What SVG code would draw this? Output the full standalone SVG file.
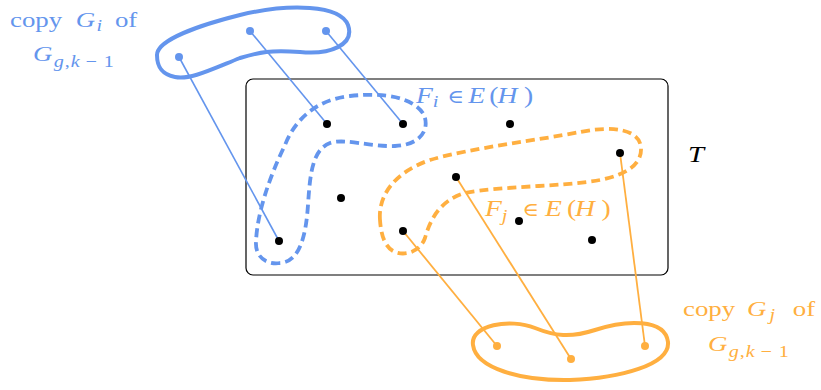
<svg xmlns="http://www.w3.org/2000/svg" width="821" height="390" viewBox="0 0 821 390">
<style>
.bl{fill:#6495ED}
.or{fill:#FFAF40}
.t{font-family:"Liberation Serif",serif;font-size:22px}
.f{font-family:"Liberation Serif",serif;font-size:23px}
.m{font-style:italic}
.s{font-size:16.5px}
.s2{font-size:17px}
.el{font-family:"DejaVu Serif","Liberation Serif",serif;font-size:19px}
.dot{fill:#000}
.bline{stroke:#6495ED;stroke-width:1.6;fill:none}
.oline{stroke:#FFAF40;stroke-width:1.8;fill:none}
</style>
<rect width="821" height="390" fill="#fff"/>
<g id="T-box">
<rect x="246" y="79" width="422" height="196" rx="7" fill="none" stroke="#000" stroke-width="1.2"/>
<text class="f m" transform="translate(688,162) scale(1.25,1)" fill="#000">T</text>
</g>
<g id="Fi-set">
<path d="M 280,263 C 268,265 255,258 256,242 C 257,215 268,180 285,145 C 295,120 315,100 350,96 C 385,92 415,98 424,115 C 430,130 420,145 395,146 C 370,147 345,138 330,143 C 312,150 310,175 308,205 C 306,235 300,262 280,263 Z" fill="none" stroke="#6495ED" stroke-width="3.8" stroke-dasharray="9,5"/>
<text class="f bl" transform="translate(416,103) scale(1.2,1)"><tspan class="m" x="0" y="0">F</tspan><tspan class="m s2" x="14" y="4">i</tspan><tspan class="el" x="26" y="0">∈</tspan><tspan class="m" x="43.5">E</tspan><tspan x="61">(</tspan><tspan class="m" x="68">H</tspan><tspan x="90">)</tspan></text>
</g>
<g id="Fj-set">
<path d="M 380,220 C 378,195 395,172 430,160 C 470,148 540,140 580,132 C 615,125 640,130 641,148 C 642,165 625,175 600,180 C 560,187 500,186 465,193 C 440,200 430,220 425,238 C 420,252 405,256 395,252 C 385,248 381,235 380,220 Z" fill="none" stroke="#FFAF40" stroke-width="3.8" stroke-dasharray="9,5"/>
<text class="f or" transform="translate(485,216) scale(1.2,1)"><tspan class="m" x="0" y="0">F</tspan><tspan class="m s2" x="14" y="5">j</tspan><tspan class="el" x="31" y="0">∈</tspan><tspan class="m" x="50">E</tspan><tspan x="68.3">(</tspan><tspan class="m" x="75">H</tspan><tspan x="97">)</tspan></text>
</g>
<g id="connectors">
<line class="bline" x1="179" y1="57" x2="279" y2="241"/>
<line class="bline" x1="250" y1="31" x2="327" y2="124"/>
<line class="bline" x1="326" y1="31" x2="403" y2="124"/>
<line class="oline" x1="403" y1="231" x2="497" y2="346"/>
<line class="oline" x1="456" y1="177" x2="571" y2="359"/>
<line class="oline" x1="620" y1="153" x2="645" y2="346"/>
</g>
<g id="H-vertices">
<circle class="dot" cx="327" cy="124" r="4"/>
<circle class="dot" cx="403" cy="124" r="4"/>
<circle class="dot" cx="510" cy="124" r="4"/>
<circle class="dot" cx="620" cy="153" r="4"/>
<circle class="dot" cx="456" cy="177" r="4"/>
<circle class="dot" cx="341" cy="198" r="4"/>
<circle class="dot" cx="403" cy="231" r="4"/>
<circle class="dot" cx="519" cy="221" r="4"/>
<circle class="dot" cx="592" cy="240" r="4"/>
<circle class="dot" cx="279" cy="241" r="4"/>
</g>
<g id="copy-Gi">
<path d="M 157,55 C 157,40 200,25 240,15 C 290,3 340,5 348,25 C 355,45 330,55 300,52 C 270,50 260,52 240,58 C 210,70 190,80 175,77 C 160,74 157,65 157,55 Z" fill="none" stroke="#6495ED" stroke-width="4"/>
<circle class="bl" cx="179" cy="57" r="4"/>
<circle class="bl" cx="250" cy="31" r="4"/>
<circle class="bl" cx="326" cy="31" r="4"/>
<text class="t bl" transform="translate(10,27) scale(1.22,1)"><tspan x="0" y="0">copy</tspan><tspan class="m" x="54">G</tspan><tspan class="m s" x="71" y="4">i</tspan><tspan x="86" y="0">of</tspan></text>
<text class="t bl" transform="translate(33,61) scale(1.22,1)"><tspan class="m" x="0" y="0">G</tspan><tspan class="m s" x="17" y="6">g</tspan><tspan class="s" x="26">,</tspan><tspan class="m s" x="31">k</tspan><tspan class="s" x="43">−</tspan><tspan class="s" x="58">1</tspan></text>
</g>
<g id="copy-Gj">
<path d="M 473,345 C 470,325 510,318 535,328 C 555,336 570,338 595,330 C 625,320 665,318 668,342 C 670,365 620,378 570,380 C 520,381 476,368 473,345 Z" fill="none" stroke="#FFAF40" stroke-width="4"/>
<circle class="or" cx="497" cy="346" r="4"/>
<circle class="or" cx="571" cy="359" r="4"/>
<circle class="or" cx="645" cy="346" r="4"/>
<text class="t or" transform="translate(683,316) scale(1.22,1)"><tspan x="0" y="0">copy</tspan><tspan class="m" x="52.5">G</tspan><tspan class="m s" x="71" y="4">j</tspan><tspan x="90" y="0">of</tspan></text>
<text class="t or" transform="translate(708,351) scale(1.22,1)"><tspan class="m" x="0" y="0">G</tspan><tspan class="m s" x="17" y="6">g</tspan><tspan class="s" x="26">,</tspan><tspan class="m s" x="31">k</tspan><tspan class="s" x="43">−</tspan><tspan class="s" x="58">1</tspan></text>
</g>
</svg>
